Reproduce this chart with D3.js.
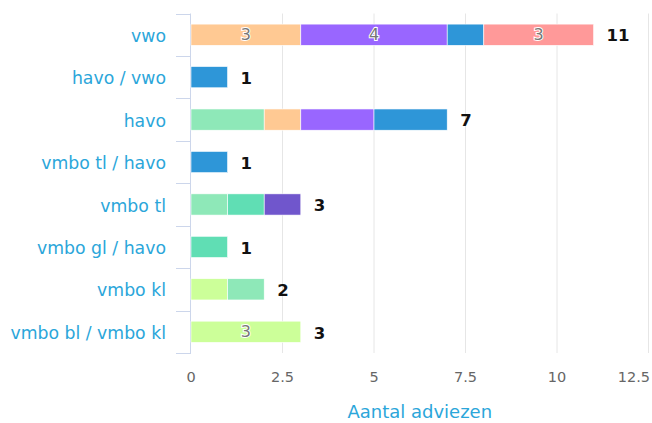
<!DOCTYPE html>
<html>
<head>
<meta charset="utf-8">
<script src="https://cdn.jsdelivr.net/npm/d3@7"></script>
<style>
  body { margin: 0; background: #fff; }
  svg { display: block; font-family: "DejaVu Sans", sans-serif; }
</style>
</head>
<body>
<svg id="chart"></svg>
<script>
const width = 652;
const height = 423;

const categories = ["vwo", "havo / vwo", "havo", "vmbo tl / havo", "vmbo tl", "vmbo gl / havo", "vmbo kl", "vmbo bl / vmbo kl"];
const xTicks = [0, 2.5, 5, 7.5, 10, 12.5];
const axisTitle = "Aantal adviezen";

// one array per stacked series, left to right, values per category
const seriesNames = ["s1", "s2", "s3", "s4", "s5", "s6", "s7", "s8"];
const seriesColors = ["#ccff99", "#8ee8b8", "#60deb4", "#7056cc", "#ffc993", "#9966ff", "#2e96d8", "#ff9999"];
const s1 = [0, 0, 0, 0, 0, 0, 1, 3];
const s2 = [0, 0, 2, 0, 1, 0, 1, 0];
const s3 = [0, 0, 0, 0, 1, 1, 0, 0];
const s4 = [0, 0, 0, 0, 1, 0, 0, 0];
const s5 = [3, 0, 1, 0, 0, 0, 0, 0];
const s6 = [4, 0, 2, 0, 0, 0, 0, 0];
const s7 = [1, 1, 2, 1, 0, 0, 0, 0];
const s8 = [3, 0, 0, 0, 0, 0, 0, 0];
const seriesValues = [s1, s2, s3, s4, s5, s6, s7, s8];

const margin = {top: 13.5, right: 3.5, bottom: 70, left: 191};

let table = categories.map((c, i) => {
    let row = {cat: c};
    seriesNames.forEach((s, j) => row[s] = seriesValues[j][i]);
    return row;
});
let stacked = d3.stack().keys(seriesNames)(table);

let svg = d3.select("#chart")
    .attr("width", width)
    .attr("height", height);

let x = d3.scaleLinear()
    .domain([0, 12.5])
    .range([margin.left, width - margin.right]);
let y = d3.scaleBand()
    .domain(categories)
    .range([margin.top, height - margin.bottom])
    .paddingInner(0.5)
    .paddingOuter(0.25);
let step = y.step();

// gridlines
svg.append("g")
    .selectAll("line")
    .data(xTicks.slice(1))
    .join("line")
    .attr("x1", d => x(d))
    .attr("x2", d => x(d))
    .attr("y1", margin.top)
    .attr("y2", height - margin.bottom)
    .attr("stroke", "#e6e6e6")
    .attr("stroke-width", 1);

// x tick labels
svg.append("g")
    .selectAll("text")
    .data(xTicks)
    .join("text")
    .attr("x", d => d === 12.5 ? width - 2 : x(d))
    .attr("y", height - margin.bottom + 24)
    .attr("dy", "0.35em")
    .attr("text-anchor", d => d === 12.5 ? "end" : "middle")
    .attr("fill", "#666")
    .style("font-size", "14.5px")
    .text(d => d);

svg.append("text")
    .attr("x", (margin.left + width - margin.right) / 2)
    .attr("y", 412)
    .attr("dy", "0.35em")
    .attr("text-anchor", "middle")
    .attr("fill", "#2ba6da")
    .style("font-size", "18px")
    .text(axisTitle);

// y axis line + category ticks
let yAxis = svg.append("g");
yAxis.append("line")
    .attr("x1", margin.left - 0.5)
    .attr("x2", margin.left - 0.5)
    .attr("y1", margin.top)
    .attr("y2", height - margin.bottom)
    .attr("stroke", "#ccd6eb");
yAxis.selectAll("line.tick")
    .data(d3.range(categories.length + 1))
    .join("line")
    .classed("tick", true)
    .attr("x1", margin.left - 15)
    .attr("x2", margin.left)
    .attr("y1", i => Math.round(margin.top + i * step) + 0.5)
    .attr("y2", i => Math.round(margin.top + i * step) + 0.5)
    .attr("stroke", "#ccd6eb");
yAxis.selectAll("text")
    .data(categories)
    .join("text")
    .attr("x", margin.left - 25)
    .attr("y", d => y(d) + y.bandwidth() / 2 + 1)
    .attr("dy", "0.35em")
    .attr("text-anchor", "end")
    .attr("fill", "#2ba6da")
    .style("font-size", "17.3px")
    .text(d => d);

// bars
let groups = svg.append("g")
    .selectAll("g")
    .data(stacked)
    .join("g")
    .attr("fill", (d, i) => seriesColors[i]);
groups.selectAll("rect")
    .data(d => d.filter(p => p[1] > p[0]))
    .join("rect")
    .attr("x", d => x(d[0]))
    .attr("y", d => y(d.data.cat))
    .attr("width", d => x(d[1]) - x(d[0]))
    .attr("height", y.bandwidth())
    .attr("stroke", "#fff")
    .attr("stroke-width", 0.6);

// inside labels
groups.selectAll("text")
    .data(d => d.filter(p => p[1] - p[0] >= 3))
    .join("text")
    .attr("x", d => (x(d[0]) + x(d[1])) / 2)
    .attr("y", d => y(d.data.cat) + y.bandwidth() / 2)
    .attr("dy", "0.35em")
    .attr("text-anchor", "middle")
    .attr("fill", "#777")
    .attr("stroke", "#fff")
    .attr("stroke-width", 2)
    .attr("paint-order", "stroke")
    .style("font-size", "16px")
    .text(d => d[1] - d[0]);

// totals
let totals = table.map(r => ({cat: r.cat, total: d3.sum(seriesNames, s => r[s])}));
svg.append("g")
    .selectAll("text")
    .data(totals)
    .join("text")
    .attr("x", d => x(d.total) + 13)
    .attr("y", d => y(d.cat) + y.bandwidth() / 2 + 1)
    .attr("dy", "0.35em")
    .attr("fill", "#111")
    .style("font-size", "16.5px")
    .style("font-weight", "bold")
    .text(d => d.total);
</script>
</body>
</html>
